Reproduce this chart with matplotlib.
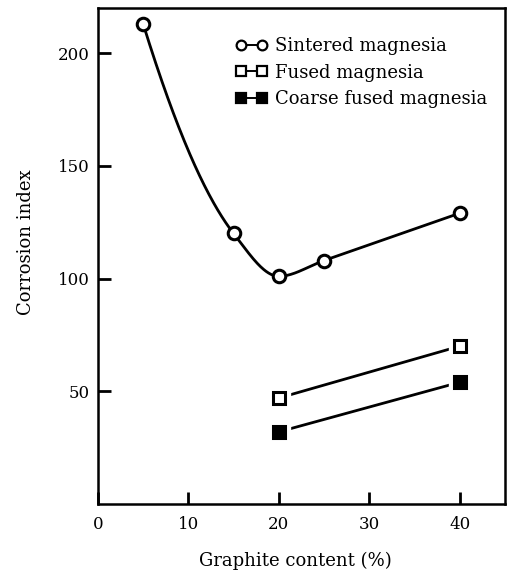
import numpy as np
import matplotlib
matplotlib.use("Agg")
import matplotlib.pyplot as plt

# data
graphite_sintered = [5, 15, 20, 25, 40]
index_sintered = [213, 120, 101, 108, 129]

graphite_fused = [20, 40]
index_fused = [47, 70]

graphite_coarse = [20, 40]
index_coarse = [32, 54]

plt.rcParams['font.family'] = ['DejaVu Serif']


def pchip(x, y, xn):
    # monotone cubic through the points (Fritsch-Carlson, 3-point end slopes)
    x = np.asarray(x, float); y = np.asarray(y, float)
    h = np.diff(x); d = np.diff(y) / h
    m = np.zeros_like(y)
    for k in range(1, len(x) - 1):
        if d[k - 1] * d[k] > 0:
            w1 = 2 * h[k] + h[k - 1]; w2 = h[k] + 2 * h[k - 1]
            m[k] = (w1 + w2) / (w1 / d[k - 1] + w2 / d[k])
    m[0] = ((2*h[0] + h[1]) * d[0] - h[0] * d[1]) / (h[0] + h[1])
    m[-1] = ((2*h[-1] + h[-2]) * d[-1] - h[-1] * d[-2]) / (h[-1] + h[-2])
    if m[-1] * d[-1] <= 0:
        m[-1] = 0
    i = np.clip(np.searchsorted(x, xn) - 1, 0, len(x) - 2)
    t = (xn - x[i]) / h[i]
    h00 = 2*t**3 - 3*t**2 + 1; h10 = t**3 - 2*t**2 + t
    h01 = -2*t**3 + 3*t**2; h11 = t**3 - t**2
    return h00*y[i] + h10*h[i]*m[i] + h01*y[i+1] + h11*h[i]*m[i+1]


fig = plt.figure(figsize=(5.1, 5.75), dpi=100)
ax = fig.add_axes([0.192, 0.1235, 0.798, 0.8625])

xf = np.linspace(min(graphite_sintered), max(graphite_sintered), 400)
ax.plot(xf, pchip(graphite_sintered, index_sintered, xf), color='black', lw=2, zorder=2)

for gx, gy in [(graphite_fused, index_fused), (graphite_coarse, index_coarse)]:
    ax.plot(gx, gy, color='black', lw=2, zorder=2)

# white halo under markers so the lines stop short of them
halo = dict(ls='none', color='white', ms=16, zorder=3)
ax.plot(graphite_fused, index_fused, marker='s', **halo)
ax.plot(graphite_coarse, index_coarse, marker='s', **halo)

ax.plot(graphite_sintered, index_sintered, 'o', mfc='white', mec='black',
        mew=2.2, ms=9, zorder=4)
ax.plot(graphite_fused, index_fused, 's', mfc='white', mec='black',
        mew=2.2, ms=9, zorder=4)
ax.plot(graphite_coarse, index_coarse, 's', mfc='black', mec='black',
        mew=2.2, ms=9, zorder=4)

# legend handles: marker-line-marker
h1, = ax.plot([], [], '-o', color='black', mfc='white', mew=1.6, ms=7, lw=1.4)
h2, = ax.plot([], [], '-s', color='black', mfc='white', mew=1.6, ms=7, lw=1.4)
h3, = ax.plot([], [], '-s', color='black', mfc='black', mew=1.6, ms=7, lw=1.4)
ax.legend([h1, h2, h3], ['Sintered magnesia', 'Fused magnesia', 'Coarse fused magnesia'],
          loc='upper left', bbox_to_anchor=(0.32, 0.956), numpoints=2,
          handlelength=1.76, handletextpad=0.45, labelspacing=0.47,
          frameon=False, fontsize=13, borderaxespad=0.0)

ax.set_xlim(0, 45)
ax.set_ylim(0, 220)
ax.set_xticks([0, 10, 20, 30, 40])
ax.set_yticks([50, 100, 150, 200])
ax.tick_params(direction='in', length=9, width=2, labelsize=12)
ax.tick_params(axis='x', pad=9)
ax.tick_params(axis='y', pad=6)
for s in ax.spines.values():
    s.set_linewidth(1.8)

ax.set_xlabel('Graphite content (%)', fontsize=13)
ax.set_ylabel('Corrosion index', fontsize=13)
ax.xaxis.set_label_coords(0.485, -0.097)
ax.yaxis.set_label_coords(-0.155, 0.528)

fig.savefig('out.png', dpi=100)
